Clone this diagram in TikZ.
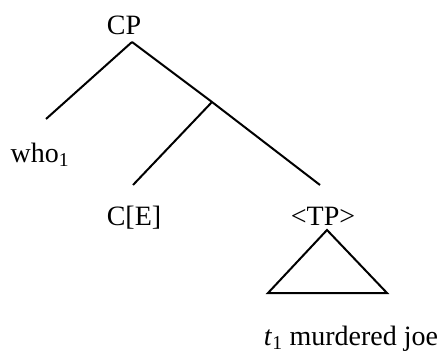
\documentclass[tikz,border=0pt]{standalone}
\usepackage{fontspec}
\setmainfont{Liberation Serif}
\begin{document}
\begin{tikzpicture}[x=1pt,y=-1pt,
  lbl/.style={anchor=base,inner sep=0pt,font=\fontsize{28}{30}\selectfont},
  edge/.style={line width=2pt}]
\useasboundingbox (0,0) rectangle (443,350);
\node[lbl] (cp) at (124,35) {CP};
\node[lbl] (who) at (40,162) {who\textsubscript{1}};
\node[lbl] (ce) at (134,225) {C[E]};
\node[lbl] (tp) at (323,225) {<TP>};
\node[lbl] (str) at (351,345) {\textit{t}\textsubscript{1} murdered joe};
\coordinate (top) at (132,42);
\coordinate (wend) at (46,119);
\coordinate (cbar) at (212,102);
\coordinate (ceend) at (133,185);
\coordinate (tpend) at (320,185);
\coordinate (apex) at (327,230);
\coordinate (bl) at (268,293);
\coordinate (br) at (387,293);
\draw[edge] (top) -- (wend);
\draw[edge] (top) -- (cbar) -- (tpend);
\draw[edge] (cbar) -- (ceend);
\draw[edge,line join=miter] (apex) -- (bl) -- (br) -- cycle;
\end{tikzpicture}
\end{document}
